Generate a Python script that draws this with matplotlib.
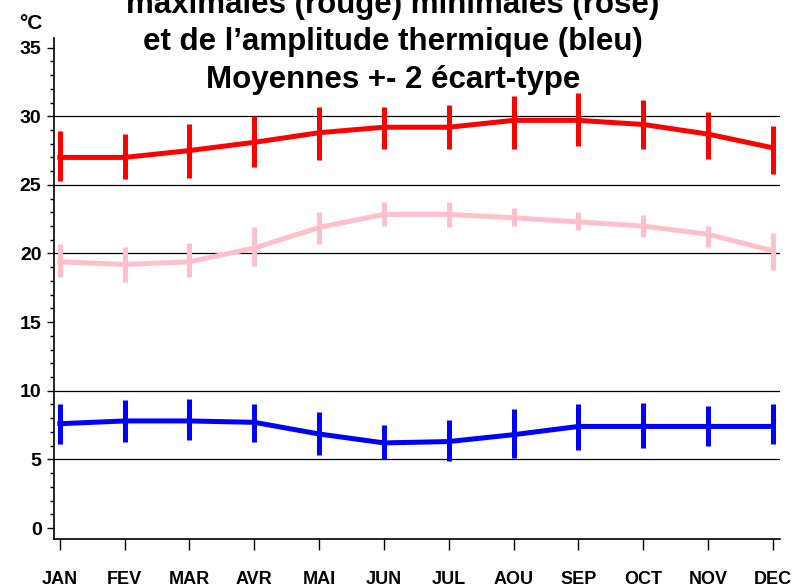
import numpy as np
import matplotlib
matplotlib.use("Agg")
import matplotlib.pyplot as plt

plt.rcParams['font.family'] = ['Liberation Sans', 'DejaVu Sans']

months = ["JAN", "FEV", "MAR", "AVR", "MAI", "JUN",
          "JUL", "AOU", "SEP", "OCT", "NOV", "DEC"]

# maximales (rouge)
tmax = [27.0, 27.0, 27.5, 28.1, 28.8, 29.2, 29.2, 29.7, 29.7, 29.4, 28.7, 27.7]
tmax_low = [25.3, 25.4, 25.5, 26.3, 26.8, 27.6, 27.6, 27.6, 27.8, 27.6, 26.9, 25.8]
tmax_high = [28.9, 28.7, 29.4, 30.0, 30.7, 30.7, 30.8, 31.5, 31.7, 31.2, 30.3, 29.3]

# minimales (rose)
tmin = [19.4, 19.2, 19.4, 20.4, 21.9, 22.85, 22.85, 22.6, 22.3, 22.0, 21.4, 20.2]
tmin_low = [18.3, 17.9, 18.3, 19.1, 20.7, 22.0, 21.9, 22.0, 21.7, 21.2, 20.5, 18.8]
tmin_high = [20.7, 20.5, 20.8, 21.9, 23.0, 23.75, 23.75, 23.3, 23.0, 22.8, 22.0, 21.5]

# amplitude thermique (bleu)
ampl = [7.6, 7.8, 7.8, 7.7, 6.85, 6.2, 6.3, 6.8, 7.4, 7.4, 7.4, 7.4]
ampl_low = [6.1, 6.3, 6.4, 6.25, 5.3, 5.0, 4.9, 5.1, 5.7, 5.8, 5.95, 6.1]
ampl_high = [9.0, 9.3, 9.4, 9.05, 8.45, 7.5, 7.9, 8.7, 9.0, 9.1, 8.9, 9.0]

grid_levels = [5, 10, 20, 25, 30]

title_lines = ["maximales (rouge) minimales (rose)",
               "et de l\u2019amplitude thermique (bleu)",
               "Moyennes +- 2 \u00e9cart-type"]

W, H = 805, 587
fig = plt.figure(figsize=(W / 100, H / 100), dpi=100)
ax = fig.add_axes([54 / W, 1 - 539 / H, (780 - 54) / W, (539 - 38) / H])

x = np.arange(1, len(months) + 1)
series = [
    (tmax, tmax_low, tmax_high, "red"),
    (tmin, tmin_low, tmin_high, "pink"),
    (ampl, ampl_low, ampl_high, "blue"),
]

for lvl in grid_levels:
    ax.axhline(lvl, color="black", lw=0.9, zorder=1)

for mean, low, high, col in series:
    mean = np.array(mean)
    yerr = [mean - np.array(low), np.array(high) - mean]
    ax.errorbar(x, mean, yerr=yerr, color=col, lw=3.6, elinewidth=3.6,
                capsize=0, zorder=3)

ax.set_xlim(0.91, 12.11)
ax.set_ylim(-0.8, 35.7)
ax.set_xticks(x)
ax.set_xticklabels(months, fontsize=13, fontweight="bold")
ax.set_yticks(np.arange(0, 36, 5))
ax.set_yticks(np.arange(0, 36, 1), minor=True)
ax.tick_params(axis="y", which="major", length=5, width=1, pad=4,
               labelsize=14)
ax.tick_params(axis="y", which="minor", length=3, width=1)
ax.tick_params(axis="x", length=8, width=1, pad=15)
for lab in ax.get_yticklabels():
    lab.set_fontweight("bold")

for side in ["top", "right"]:
    ax.spines[side].set_visible(False)
for side in ["left", "bottom"]:
    ax.spines[side].set_linewidth(1.2)

fig.text(31 / W, 1 - 29 / H, "\u00b0C", ha="center", va="baseline",
         fontsize=15, fontweight="bold")

baselines = [13, 50, 88]
for line, yb in zip(title_lines, baselines):
    fig.text(393 / W, 1 - yb / H, line, ha="center", va="baseline",
             fontsize=22.5, fontweight="bold")

fig.savefig("out.png", dpi=100)
